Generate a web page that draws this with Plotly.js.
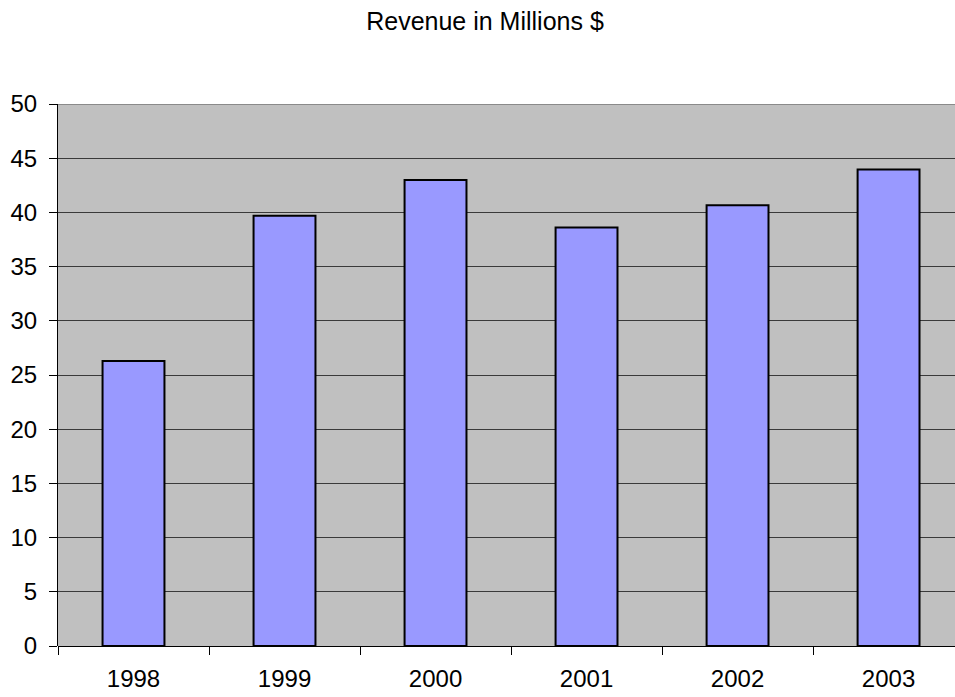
<!DOCTYPE html>
<html>
<head>
<meta charset="utf-8">
<script src="https://cdn.plot.ly/plotly-3.0.1.min.js"></script>
<style>html,body{margin:0;padding:0;background:#fff;}#chart{width:955px;height:697px;}</style>
</head>
<body>
<div id="chart"></div>
<script>
const years = ["1998", "1999", "2000", "2001", "2002", "2003"];
const revenue = [26.3, 39.7, 43.0, 38.6, 40.65, 43.95];
const yTicks = [0, 5, 10, 15, 20, 25, 30, 35, 40, 45, 50];
const chartTitle = "Revenue in Millions $";

const trace = {
  type: "bar",
  x: years,
  y: revenue,
  width: 0.41,
  marker: { color: "#9999FF", line: { color: "#000000", width: 2 } },
  hoverinfo: "x+y"
};

const layout = {
  width: 955,
  height: 697,
  margin: { l: 58, r: 0, t: 104, b: 51, pad: 0 },
  paper_bgcolor: "#ffffff",
  plot_bgcolor: "#C0C0C0",
  showlegend: false,
  font: { family: "Liberation Sans, Arial, sans-serif", color: "#000000" },
  title: {
    text: chartTitle,
    font: { size: 25, color: "#000000" },
    x: 485 / 955, xanchor: "center",
    y: 1 - 21 / 697, yanchor: "middle"
  },
  xaxis: {
    type: "category",
    range: [-0.5, 5.44],
    tickson: "boundaries",
    ticks: "outside",
    ticklen: 8,
    tickcolor: "#000000",
    tickwidth: 1,
    ticklabelstandoff: 16,
    showgrid: false,
    showline: false,
    zeroline: false,
    tickfont: { size: 24 },
    automargin: false,
    fixedrange: true
  },
  yaxis: {
    range: [0, 50],
    tickmode: "array",
    tickvals: yTicks,
    ticktext: yTicks.map(String),
    ticks: "outside",
    ticklen: 8,
    tickcolor: "#000000",
    tickwidth: 1,
    ticklabelstandoff: 7,
    showline: true,
    linecolor: "#000000",
    linewidth: 1,
    showgrid: true,
    gridcolor: "#3a3a3a",
    gridwidth: 1,
    zeroline: true,
    zerolinecolor: "#000000",
    zerolinewidth: 1,
    tickfont: { size: 24 },
    automargin: false,
    fixedrange: true
  },
  shapes: [
    { type: "line", xref: "paper", yref: "y", x0: 0, x1: 1, y0: 50, y1: 50,
      line: { color: "#8a8a8a", width: 2 }, layer: "above" }
  ]
};

Plotly.newPlot("chart", [trace], layout, { displayModeBar: false, staticPlot: true });
</script>
</body>
</html>
